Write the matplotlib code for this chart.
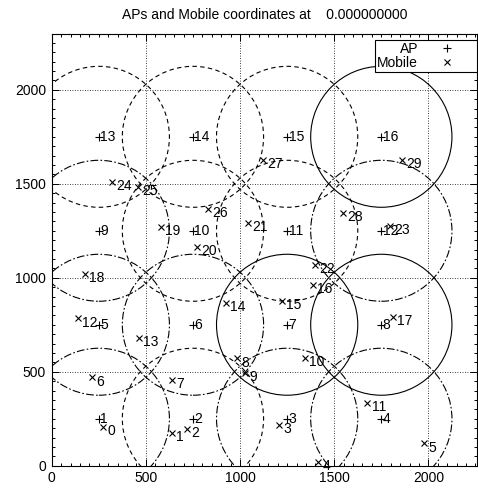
import numpy as np
import matplotlib
matplotlib.use('Agg')
import matplotlib.pyplot as plt
from matplotlib.patches import Circle
from matplotlib.ticker import MultipleLocator

plt.rcParams['font.family'] = ['Liberation Sans', 'DejaVu Sans']

# AP grid
ap_x = [250, 750, 1250, 1750] * 4
ap_y = [250] * 4 + [750] * 4 + [1250] * 4 + [1750] * 4
ap_labels = [str(i) for i in range(1, 17)]
ap_radius = 375

# mobile coordinates
mob_x = [274, 637, 717, 1209, 1416, 1977, 212, 637, 986, 1027,
         1345, 1676, 141, 465, 924, 1221, 1389, 1811, 177, 580,
         770, 1041, 1398, 1797, 319, 460, 832, 1120, 1545, 1859]
mob_y = [208, 176, 194, 217, 21, 119, 470, 456, 571, 495,
         575, 332, 784, 681, 864, 878, 962, 793, 1020, 1269,
         1166, 1290, 1068, 1276, 1511, 1485, 1366, 1627, 1347, 1627]
mob_labels = [str(i) for i in range(30)]

# line style of each AP circle
dashes = {
    'solid': '-',
    'dash': (0, (4, 3)),
    'dashdot': (0, (7, 2, 1.5, 2)),
    'short': (0, (2.5, 2.5)),
}
circle_styles = ['dashdot', 'dash', 'dashdot', 'dashdot',
                 'dashdot', 'dashdot', 'solid', 'solid',
                 'dashdot', 'dash', 'dash', 'dashdot',
                 'dash', 'dash', 'dash', 'solid']

fs = 10

fig = plt.figure(figsize=(4.78, 4.90), dpi=100)
ax = fig.add_axes([51.7 / 478, 24.3 / 490, (477 - 51.7) / 478, (465.7 - 34) / 490])

for x, y, st in zip(ap_x, ap_y, circle_styles):
    ax.add_patch(Circle((x, y), ap_radius, fill=False, ec='black', lw=0.8,
                        ls=dashes[st]))

ax.plot(ap_x, ap_y, '+', color='black', ms=6, mew=0.8, label='AP', ls='none')
ax.plot(mob_x, mob_y, 'x', color='black', ms=5, mew=0.8, label='Mobile', ls='none')

for x, y, t in zip(ap_x, ap_y, ap_labels):
    ax.annotate(t, (x, y), xytext=(1, 0), textcoords='offset points',
                ha='left', va='center', fontsize=fs)
for x, y, t in zip(mob_x, mob_y, mob_labels):
    ax.annotate(t, (x, y), xytext=(3, -3), textcoords='offset points',
                ha='left', va='center', fontsize=fs)

ax.set_xlim(0, 2258)
ax.set_ylim(0, 2297)
ax.xaxis.set_major_locator(MultipleLocator(500))
ax.yaxis.set_major_locator(MultipleLocator(500))
ax.xaxis.set_minor_locator(MultipleLocator(50))
ax.yaxis.set_minor_locator(MultipleLocator(50))
ax.tick_params(which='both', direction='in', top=True, right=True,
               labelsize=fs, width=0.7, pad=4)
ax.tick_params(which='major', length=5)
ax.tick_params(which='minor', length=2.5)
ax.grid(True, which='major', ls=(0, (1, 2)), color='black', lw=0.6)
for s in ax.spines.values():
    s.set_linewidth(0.8)

ax.set_title('APs and Mobile coordinates at    0.000000000', fontsize=fs, pad=10.5)

leg = ax.legend(loc='upper right', bbox_to_anchor=(1, 1 - 6 / 432), borderaxespad=0,
                markerfirst=False, fancybox=False, framealpha=1, edgecolor='black',
                fontsize=fs, handlelength=4.0, handletextpad=0.1, borderpad=0.15,
                labelspacing=0.0)
leg.get_frame().set_linewidth(0.8)

fig.savefig('out.png', dpi=100)
